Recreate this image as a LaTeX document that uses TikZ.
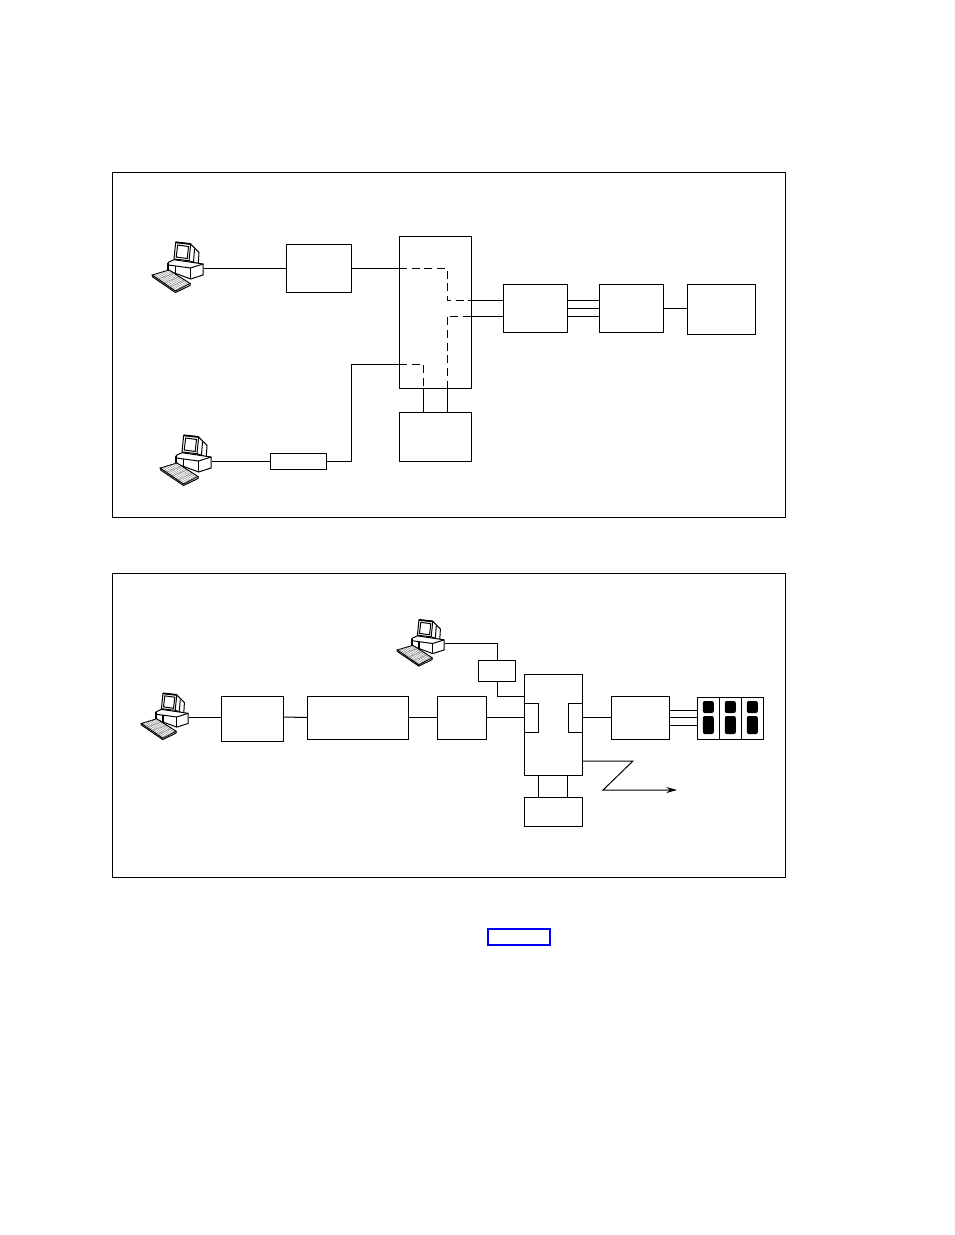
\documentclass[tikz,border=0pt]{standalone}
\usetikzlibrary{arrows.meta}
\usetikzlibrary{calc}
\tikzset{
	blockbox/.style n args={2}{draw, rectangle, inner sep=0pt, outer sep=0pt, minimum width=#1*0.75pt, minimum height=#2*0.75pt},
	slotbox/.style n args={2}{fill=black, rectangle, rounded corners=1.5pt, inner sep=0pt, outer sep=0pt, minimum width=#1*0.75pt, minimum height=#2*0.75pt},
	hidden/.style={dash pattern=on 6pt off 3.5pt},
	workstation/.pic={
		% monitor
		\draw[fill=white] (-28.3,-25.7) -- (-13.3,-24) -- (-5,-15.7) -- (-5.7,-4) -- (-15,-7.3) -- (-30,-9) -- cycle;
		\draw[line width=1.3pt] (-28.3,-25.7) -- (-13.3,-24);
		\draw (-26.3,-23) -- (-15.5,-21.5) -- (-16.8,-9.5) -- (-27.8,-11) -- cycle;
		\draw (-13.3,-24) -- (-15,-7.3);
		\draw (-9.5,-19) -- (-10.5,-6);
		% system unit
		\draw[fill=white] (-35.7,-5.7) -- (-30,-8.3) -- (-1,-4) -- (-1,7) -- (-13.3,11) -- (-35.7,2.7) -- cycle;
		\draw (-35.7,-5.7) -- (-35.7,-3) -- (-13.3,0) -- (-1,-4);
		\draw[line width=1.3pt] (-35.7,-5) -- (-35.7,2.7);
		\draw (-13.3,0) -- (-13.3,11);
		\draw[line width=1.1pt] (-28.3,-1.7) -- (-28.3,7.5);
		% keyboard
		\draw[fill=white] (-51.7,7) -- (-35,2) -- (-14,15.5) -- (-28.5,23) -- cycle;
		\foreach \k in {1,...,7}
			\draw[line width=0.3pt,gray] ($(-51.7,7)!\k/8!(-35,2)$) -- ($(-28.5,23)!\k/8!(-14,15.5)$);
		\foreach \k in {1,...,3}
			\draw[line width=0.3pt,gray] ($(-51.7,7)!\k/4!(-28.5,23)$) -- ($(-35,2)!\k/4!(-14,15.5)$);
		\draw (-14,15.5) -- (-14,17.5) -- (-28.5,24.5) -- (-51.7,8.7) -- (-51.7,7);
	}
}
\begin{document}
\begin{tikzpicture}[x=0.75pt,y=-0.75pt,line width=0.75pt]
	\useasboundingbox (0,0) rectangle (954,1235);
	% upper frame
	\node[blockbox={673}{345}] (frametop) at (448.5,344.5) {};
	\coordinate (pca) at (204,268);
	\coordinate (pcb) at (212,461);
	\pic at (pca) {workstation};
	\pic at (pcb) {workstation};
	\node[blockbox={65}{48}] (boxa) at (318.5,268) {};
	\node[blockbox={56}{16}] (modema) at (298,461) {};
	\node[blockbox={72}{152}] (hubtop) at (435,312) {};
	\node[blockbox={72}{49}] (storea) at (435,436.5) {};
	\node[blockbox={64}{48}] (ctla) at (535,308) {};
	\node[blockbox={64}{48}] (ctlb) at (631,308) {};
	\node[blockbox={68}{50}] (hosta) at (721,309) {};
	\coordinate (bendb) at (351,364);
	\coordinate (routea) at (447,268);
	\coordinate (routeb) at (447,300);
	\coordinate (routec) at (447,316);
	\coordinate (routed) at (423,364);
	\draw (pca) -- (boxa.west);
	\draw (boxa.east) -- (hubtop.west |- boxa.east);
	\draw[hidden] (hubtop.west |- boxa.east) -- (routea) -- (routeb) -- (hubtop.east |- routeb);
	\draw (hubtop.east |- routeb) -- (ctla.west |- routeb);
	\draw[hidden] (routec -| hubtop.east) -- (routec) -- (routec |- hubtop.south);
	\draw (routec -| hubtop.east) -- (routec -| ctla.west);
	\draw (routec |- hubtop.south) -- (routec |- storea.north);
	\draw (pcb) -- (modema.west);
	\draw (modema.east) -- (bendb |- modema.east) -- (bendb) -- (hubtop.west |- bendb);
	\draw[hidden] (hubtop.west |- bendb) -- (routed) -- (routed |- hubtop.south);
	\draw (routed |- hubtop.south) -- (routed |- storea.north);
	\foreach \y in {300,308,316}
		\draw (ctla.east |- 0,\y) -- (ctlb.west |- 0,\y);
	\draw (ctlb.east) -- (hosta.west |- ctlb.east);
	% lower frame
	\node[blockbox={673}{304}] (framebot) at (448.5,725) {};
	\coordinate (pcc) at (189,717);
	\coordinate (pcd) at (445,643.5);
	\pic[scale=0.92] at (pcc) {workstation};
	\pic[scale=0.92] at (pcd) {workstation};
	\node[blockbox={62}{45}] (termbox) at (252,718.5) {};
	\node[blockbox={101}{43}] (midbox) at (357.5,717.5) {};
	\node[blockbox={49}{43}] (endbox) at (461.5,717.5) {};
	\node[blockbox={58}{101}] (hubbot) at (553,724.5) {};
	\node[blockbox={14}{29}] (portl) at (531,717.5) {};
	\node[blockbox={14}{29}] (portr) at (575,717.5) {};
	\node[blockbox={58}{43}] (ctlc) at (640,717.5) {};
	\node[blockbox={37}{21}] (modemb) at (496.5,670.5) {};
	\node[blockbox={58}{29}] (storeb) at (553,811.5) {};
	\foreach \n/\x in {a/708,b/730,c/752} {
		\node[blockbox={22}{42}] (bay\n) at (\x,718) {};
		\node[slotbox={11}{12}] (slot\n) at (\x+0.3,707) {};
		\node[slotbox={11}{18}] (low\n) at (\x+0.3,725) {};
	}
	\coordinate (benda) at (497,643.5);
	\coordinate (bendc) at (497,696);
	\coordinate (zaga) at (633,761);
	\coordinate (zagb) at (603,790);
	\coordinate (zagc) at (677,790);
	\draw (pcc) -- (termbox.west |- pcc);
	\draw (termbox.east |- pcc) -- (midbox.west);
	\draw (midbox.east) -- (endbox.west);
	\draw (endbox.east) -- (portl.west);
	\draw (portr.east) -- (ctlc.west);
	\foreach \y in {710,717.5,725}
		\draw (ctlc.east |- 0,\y) -- (baya.west |- 0,\y);
	\draw (pcd) -- (benda) -- (modemb.north -| benda);
	\draw (modemb.south -| benda) -- (bendc) -- (hubbot.west |- bendc);
	\draw[-{Stealth[length=8pt,width=4.5pt]}] (hubbot.east |- zaga) -- (zaga) -- (zagb) -- (zagc);
	\draw (538,0 |- hubbot.south) -- (538,0 |- storeb.north);
	\draw (567.5,0 |- hubbot.south) -- (567.5,0 |- storeb.north);
	% reference mark
	\node[blockbox={62}{16},draw=blue,line width=1.5pt] (linkmark) at (519,937) {};
\end{tikzpicture}
\end{document}
